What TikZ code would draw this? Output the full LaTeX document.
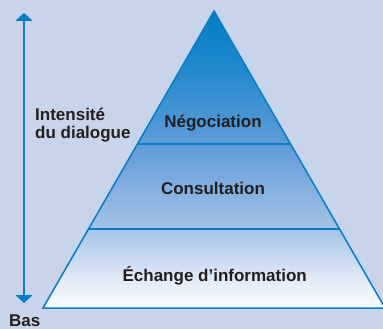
\documentclass[tikz,border=0pt]{standalone}
\usepackage{fontspec}
\setmainfont{Liberation Sans}[BoldFont={Liberation Sans Bold}]
\usetikzlibrary{arrows.meta,calc}
\definecolor{bgc}{RGB}{200,212,234}
\definecolor{linec}{RGB}{5,125,200}
\definecolor{txtc}{RGB}{35,31,32}
\pgfdeclareverticalshading{pyrshade}{100bp}{%
  rgb(0bp)=(0.98,0.99,1);
  rgb(25bp)=(0.98,0.99,1);
  rgb(29.5bp)=(0.894,0.925,0.973);
  rgb(38.3bp)=(0.647,0.765,0.902);
  rgb(52.6bp)=(0.373,0.608,0.843);
  rgb(65bp)=(0.137,0.541,0.808);
  rgb(75bp)=(0,0.49,0.776);
  rgb(100bp)=(0,0.49,0.776)}
\tikzset{
  lbl/.style={font=\fontsize{17}{19}\selectfont\bfseries, text=txtc, inner sep=0pt},
  edge/.style={draw=linec, line width=1.5pt},
}
\begin{document}
\begin{tikzpicture}[x=1pt,y=-1pt]
\fill[bgc] (0,0) rectangle (383,329);
\useasboundingbox (0,0) rectangle (383,329);
\coordinate (apex) at (214,11);
\coordinate (bl) at (43,308);
\coordinate (br) at (385,308);
\shade[shading=pyrshade] (apex) -- (bl) -- (br) -- cycle;
\coordinate (l1) at ($(apex)!0.4478!(bl)$);
\coordinate (r1) at ($(apex)!0.4478!(br)$);
\coordinate (l2) at ($(apex)!0.734!(bl)$);
\coordinate (r2) at ($(apex)!0.734!(br)$);
\draw[edge, line join=miter] (apex) -- (bl) -- (br) -- cycle;
\draw[edge] (l1) -- (r1);
\draw[edge] (l2) -- (r2);
\node[lbl, anchor=base] (neg) at (213,127.7) {Négociation};
\node[lbl, anchor=base] (con) at (213,194.3) {Consultation};
\node[lbl, anchor=base] (ech) at (214.7,281) {Échange d’information};
\node[lbl, anchor=base west] (int1) at (35,120) {Intensité};
\node[lbl, anchor=base west] (int2) at (35,139) {du dialogue};
\node[lbl, anchor=base west] (bas) at (9,326) {Bas};
\coordinate (atop) at (24,13);
\coordinate (abot) at (24,303);
\draw[draw=linec, line width=2.2pt, {Triangle[width=17pt,length=8pt]}-{Triangle[width=17pt,length=8pt]}] (atop) -- (abot);
\end{tikzpicture}
\end{document}
